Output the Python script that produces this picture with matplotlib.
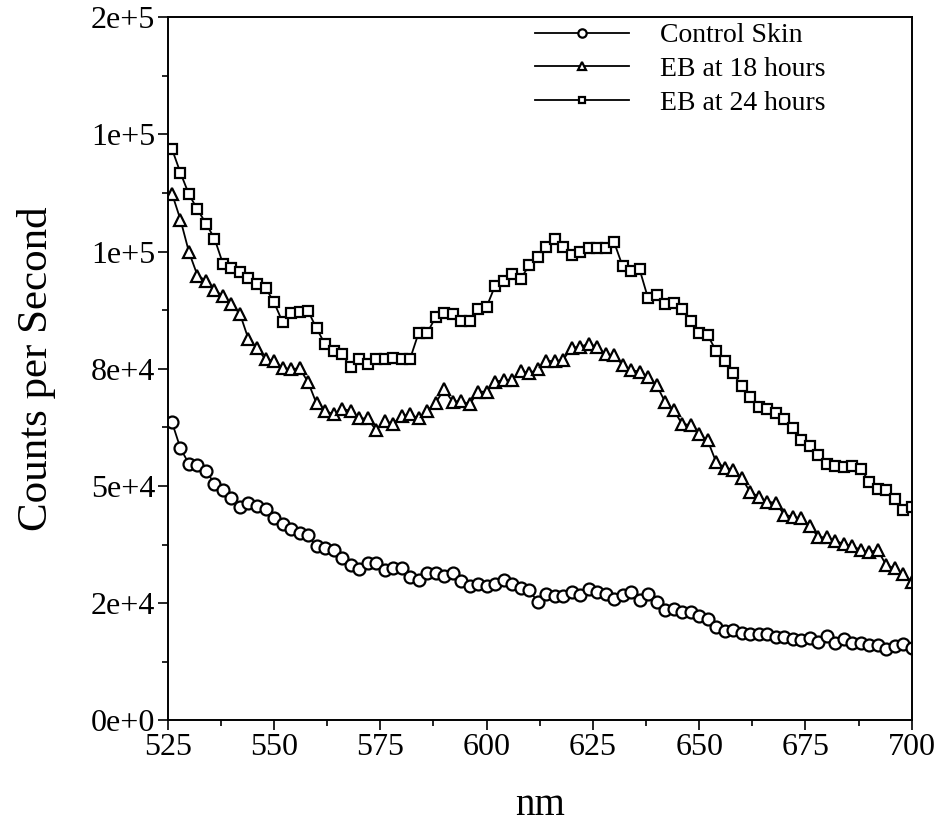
import numpy as np
import matplotlib
matplotlib.use('Agg')
import matplotlib.pyplot as plt
from matplotlib.ticker import FixedLocator, MultipleLocator

plt.rcParams['font.family'] = ['Liberation Serif', 'DejaVu Serif']

# wavelength grid (nm), one reading every 2 nm
wavelength = np.arange(526, 701, 2)

control_skin = [
    63600, 58000, 54700, 54400, 53200, 50500, 49100, 47500, 45400, 46400,
    45700, 45000, 43100, 41800, 40900, 39900, 39500, 37100, 36700, 36400,
    34700, 33100, 32200, 33500, 33500, 32000, 32400, 32400, 30600, 29900,
    31400, 31400, 30700, 31400, 29700, 28600, 29000, 28600, 29000, 29900,
    29000, 28300, 27800, 25300, 27000, 26500, 26500, 27300, 26800, 28100,
    27300, 26900, 25800, 26700, 27400, 25600, 26900, 25200, 23500, 23800,
    23100, 23100, 22200, 21700, 19800, 19100, 19200, 18700, 18400, 18400,
    18500, 17800, 17700, 17400, 17200, 17600, 16700, 17900, 16400, 17400,
    16500, 16400, 16000, 16000, 15300, 15800, 16200, 15400,
]

eb_18h = [
    112400, 106800, 99900, 94900, 93800, 91800, 90500, 88800, 86700, 81300,
    79400, 77000, 76700, 75200, 74900, 75100, 72200, 67600, 66000, 65300,
    66500, 66000, 64400, 64400, 61900, 63800, 63300, 64900, 65300, 64400,
    66000, 67700, 70600, 68000, 68100, 67400, 70100, 70100, 72200, 72600,
    72600, 74600, 74000, 74900, 76700, 76600, 76900, 79500, 79700, 80300,
    79700, 78100, 77900, 75800, 74700, 74400, 73300, 71500, 67900, 66200,
    63200, 63000, 61000, 59700, 55100, 53900, 53500, 51700, 48700, 47700,
    46600, 46400, 43900, 43400, 43100, 41500, 39100, 39000, 38300, 37600,
    37200, 36300, 35900, 36300, 33100, 32400, 31300, 29500,
]

eb_24h = [
    121900, 116800, 112200, 109000, 106000, 102800, 97400, 96400, 95600, 94400,
    93000, 92300, 89200, 85000, 86800, 87200, 87400, 83600, 80300, 78800,
    78100, 75400, 77000, 76000, 77100, 77100, 77400, 77100, 77100, 82600,
    82600, 86000, 87000, 86600, 85300, 85300, 87700, 88200, 92700, 93700,
    95200, 94100, 97100, 98900, 101000, 102700, 100900, 99300, 100000, 100800,
    100800, 100800, 102000, 96900, 95900, 96200, 90000, 90700, 88800, 89100,
    87700, 85300, 82600, 82200, 78800, 76700, 74000, 71300, 68900, 66900,
    66500, 65600, 64200, 62400, 59900, 58500, 56600, 54600, 54300, 54100,
    54300, 53700, 50900, 49300, 49100, 47200, 44800, 45500,
]

series_labels = ['Control Skin', 'EB at 18 hours', 'EB at 24 hours']

y_ticks = [0, 25000, 50000, 75000, 100000, 125000, 150000]
y_tick_labels = ['0e+0', '2e+4', '5e+4', '8e+4', '1e+5', '1e+5', '2e+5']
x_ticks = [525, 550, 575, 600, 625, 650, 675, 700]

fig = plt.figure(figsize=(9.37, 8.25), dpi=100)
ax = fig.add_axes([0.179, 0.127, 0.794, 0.852])

style = dict(color='black', lw=1.3, mfc='white', mec='black', mew=1.6)
ax.plot(wavelength, control_skin, marker='o', ms=8.6, label=series_labels[0], **style)
ax.plot(wavelength, eb_18h, marker='^', ms=9.0, label=series_labels[1], **style)
ax.plot(wavelength, eb_24h, marker='s', ms=7.0, label=series_labels[2], **style)

ax.set_xlim(525, 700)
ax.set_ylim(0, 150000)

ax.xaxis.set_major_locator(FixedLocator(x_ticks))
ax.xaxis.set_minor_locator(MultipleLocator(12.5))
ax.yaxis.set_major_locator(FixedLocator(y_ticks))
ax.yaxis.set_minor_locator(MultipleLocator(12500))
ax.set_yticklabels(y_tick_labels)

ax.tick_params(which='major', direction='out', length=7, width=1.2, labelsize=23, pad=2)
ax.tick_params(which='minor', direction='out', length=4, width=1.2)
ax.tick_params(top=False, right=False)
for sp in ax.spines.values():
    sp.set_linewidth(1.4)

ax.set_xlabel('nm', fontsize=28)
ax.set_ylabel('Counts per Second', fontsize=31)
ax.xaxis.set_label_coords(0.5, -0.095)
ax.yaxis.set_label_coords(-0.15, 0.5)

ax.legend(loc='upper left', bbox_to_anchor=(0.475, 1.012), frameon=False,
          fontsize=20, handlelength=3.4, handletextpad=1.1, labelspacing=0.3,
          borderpad=0.0, markerscale=0.7)

fig.savefig('out.png', dpi=100)
